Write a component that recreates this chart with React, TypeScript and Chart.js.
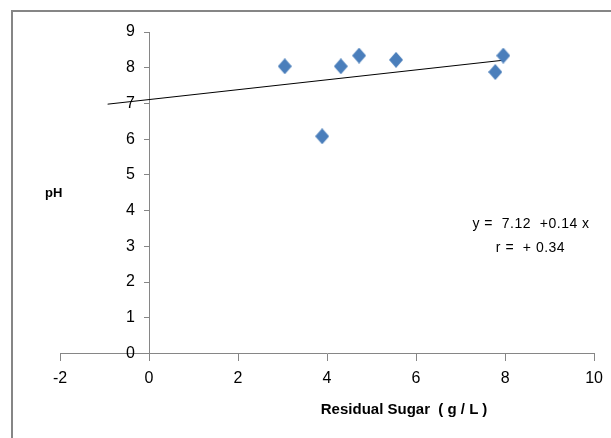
import React, { useEffect, useRef } from "react";
import { Chart, registerables } from "chart.js";

Chart.register(...registerables);

// Data
const residualSugar = [3.05, 3.89, 4.31, 4.72, 5.55, 7.78, 7.96];
const phValues = [8.04, 6.08, 8.04, 8.34, 8.22, 7.88, 8.34];
const trendX = [-0.93, 7.96];
const trendY = [6.98, 8.21];
const xTickValues = [-2, 0, 2, 4, 6, 8, 10];
const yTickValues = [0, 1, 2, 3, 4, 5, 6, 7, 8, 9];
const xTitle = "Residual Sugar  ( g / L )";
const yTitle = "pH";
const equationLine = "y =  7.12  +0.14 x";
const rLine = "r =  + 0.34";

const AXIS_GRAY = "#868686";
const MARKER_BLUE = "#4A7EBB";
const TICK_FONT = '"Liberation Sans", Arial, sans-serif';
const NARROW_FONT = '"Liberation Sans Narrow", "Arial Narrow", "Liberation Sans", sans-serif';
const Y_LABEL_GAP = 14;

function makeDiamond(): HTMLCanvasElement {
  const c = document.createElement("canvas");
  c.width = 14;
  c.height = 16;
  const g = c.getContext("2d")!;
  g.fillStyle = MARKER_BLUE;
  g.beginPath();
  g.moveTo(7, 0);
  g.lineTo(14, 8);
  g.lineTo(7, 16);
  g.lineTo(0, 8);
  g.closePath();
  g.fill();
  return c;
}

// Chart.js ignores ticks.padding for y axes placed at a data value; shift their labels left.
const yLabelGapPlugin = {
  id: "yLabelGap",
  beforeDraw(chart: any) {
    const s: any = chart.scales.y;
    if (s && !s.__gapPatched) {
      const orig = s.drawLabels.bind(s);
      s.drawLabels = (area: any) => {
        const ctx = chart.ctx;
        ctx.save();
        ctx.translate(-Y_LABEL_GAP, 0);
        orig(area);
        ctx.restore();
      };
      s.__gapPatched = true;
    }
  },
};

export default function App() {
  const canvasRef = useRef<HTMLCanvasElement | null>(null);

  useEffect(() => {
    const canvas = canvasRef.current;
    if (!canvas) return;
    const diamond = makeDiamond();
    const chart = new Chart(canvas, {
      type: "scatter",
      data: {
        datasets: [
          {
            label: "pH",
            data: residualSugar.map((x, i) => ({ x, y: phValues[i] })),
            pointStyle: diamond as any,
            pointRadius: 7,
            backgroundColor: MARKER_BLUE,
            borderColor: MARKER_BLUE,
          },
          {
            label: "trend",
            data: trendX.map((x, i) => ({ x, y: trendY[i] })),
            showLine: true,
            pointRadius: 0,
            borderColor: "#000000",
            borderWidth: 1,
            fill: false,
          } as any,
        ],
      },
      options: {
        responsive: false,
        animation: false,
        events: [],
        layout: { padding: { left: 60, right: 15, top: 32, bottom: 84.5 } },
        plugins: { legend: { display: false }, tooltip: { enabled: false }, title: { display: false } },
        scales: {
          x: {
            type: "linear",
            min: -2,
            max: 10,
            position: { y: 0 } as any,
            afterFit: (s: any) => {
              s.height = 0;
            },
            afterBuildTicks: (s: any) => {
              s.ticks = xTickValues.map((v) => ({ value: v }));
            },
            ticks: { font: { family: TICK_FONT, size: 16 }, color: "#000", padding: 8, maxRotation: 0 },
            grid: { drawOnChartArea: false, drawTicks: true, tickLength: 7, color: AXIS_GRAY, lineWidth: 1 },
            border: { display: true, color: AXIS_GRAY, width: 1 },
          },
          y: {
            type: "linear",
            min: 0,
            max: 9,
            position: { x: 0 } as any,
            afterFit: (s: any) => {
              s.width = 0;
            },
            afterBuildTicks: (s: any) => {
              s.ticks = yTickValues.map((v) => ({ value: v }));
            },
            ticks: { font: { family: TICK_FONT, size: 16 }, color: "#000", padding: 9 },
            grid: { drawOnChartArea: false, drawTicks: true, tickLength: 5, color: AXIS_GRAY, lineWidth: 1 },
            border: { display: true, color: AXIS_GRAY, width: 1 },
          },
        },
      } as any,
      plugins: [yLabelGapPlugin],
    });
    return () => chart.destroy();
  }, []);

  return (
    <div style={{ position: "absolute", left: 0, top: 0, width: 611, height: 438, overflow: "hidden", background: "#fff" }}>
      <div
        style={{
          position: "absolute",
          left: 11,
          top: 10,
          width: 700,
          height: 500,
          borderLeft: `2px solid ${AXIS_GRAY}`,
          borderTop: `2px solid ${AXIS_GRAY}`,
          boxSizing: "border-box",
        }}
      />
      <canvas ref={canvasRef} width={611} height={438} style={{ position: "absolute", left: 0, top: 0, display: "block" }} />
      <div style={{ position: "absolute", left: 45, top: 186, font: `bold 13px ${NARROW_FONT}`, lineHeight: "13px", color: "#000", whiteSpace: "pre" }}>
        {yTitle}
      </div>
      <div
        style={{
          position: "absolute",
          left: 404,
          top: 400.6,
          transform: "translateX(-50%)",
          font: `bold 15px ${NARROW_FONT}`,
          lineHeight: "15px",
          color: "#000",
          whiteSpace: "pre",
        }}
      >
        {xTitle}
      </div>
      <div
        style={{
          position: "absolute",
          left: 531,
          top: 215.5,
          transform: "translateX(-50%)",
          font: `14px ${NARROW_FONT}`,
          letterSpacing: "0.5px",
          lineHeight: "14px",
          color: "#000",
          whiteSpace: "pre",
        }}
      >
        {equationLine}
      </div>
      <div
        style={{
          position: "absolute",
          left: 530.5,
          top: 239.9,
          transform: "translateX(-50%)",
          font: `14px ${NARROW_FONT}`,
          letterSpacing: "0.5px",
          lineHeight: "14px",
          color: "#000",
          whiteSpace: "pre",
        }}
      >
        {rLine}
      </div>
    </div>
  );
}
